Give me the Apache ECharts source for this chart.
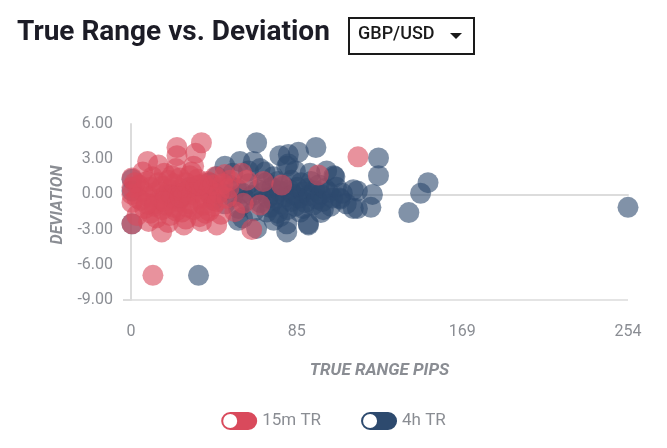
<!DOCTYPE html>
<html>
<head>
<meta charset="utf-8">
<script src="https://cdn.jsdelivr.net/npm/echarts@6/dist/echarts.min.js"></script>
<style>
html,body{margin:0;padding:0;background:#fff;}
#c{width:667px;height:448px;}
</style>
</head>
<body>
<div id="c"></div>
<script>
const xTickValues = [0, 254/3, 508/3, 254];
const yTickValues = [-9, -6, -3, 0, 3, 6];

const red15m = [
  [11.2,-6.9],[116,3.2],[36,4.4],[23.5,4.0],[23.5,3.3],[33,3.5],[8.5,2.8],[95.7,1.65],[61.7,-3.0],
  [0.5,1.4],[0.5,-2.5],[0.5,0.0],[0.5,-0.7],[0.5,0.6],[15.7,-3.2],[43.8,-2.6],[36.1,-2.3],
  [50.6,1.2],[56.6,1.8],[59.1,1.2],[67.6,1.1],[77,0.8],[57.4,-0.76],[65.9,-0.9],[53.1,-1.47],
  [4,0.8],[5,-0.5],[6,0.3],[7,-1.2],[8,1.1],[9,-0.2],[10,0.6],[10,-1.6],[11,1.5],[12,-0.8],
  [13,0.2],[13,-2.0],[14,1.0],[15,-0.4],[16,0.7],[16,-1.3],[17,1.8],[18,0.0],[18,-0.9],[19,1.2],
  [20,-1.8],[20,0.4],[21,-0.3],[22,0.9],[22,-1.1],[23,2.2],[24,0.1],[24,-0.6],[25,1.4],[26,-1.5],
  [26,0.5],[27,-0.1],[28,1.0],[28,-2.1],[29,0.3],[30,-0.8],[30,1.6],[31,0.0],[32,-1.3],[33,0.7],
  [34,-0.4],[34,1.3],[35,-1.9],[36,0.2],[37,0.9],[37,-0.9],[38,-0.3],[39,1.1],[40,-1.4],[40,0.4],
  [41,-0.2],[42,0.8],[42,-1.0],[43,1.5],[44,-0.6],[45,0.1],[46,-1.7],[47,0.9],[48,1.7],[49,-0.3],
  [50,0.5],[3,-1.8],[6,1.9],[14,2.5],[19,-2.4],[27,-2.6],[32,2.4],[9,-2.3],[2,1.0],[3,-0.3],
  [12,-1.0],[17,-0.6],[23,-1.4],[29,-1.1],[35,0.8],[8,-0.8],[21,1.6],[25,-0.2],[31,1.9],[38,-1.6]
];

const blue4h = [
  [254,-1.1],[34.5,-6.9],[94.5,4.0],[126.5,3.1],[126.5,1.6],[151.8,1.0],[148,0.1],[142,-1.55],
  [115.7,0.3],[123.4,0.0],[122.6,-1.1],[115.7,-1.2],[107,-0.4],[102,-1.0],[97,-1.55],[90.7,-2.6],
  [79.6,-3.2],[103.7,1.6],[100,2.0],[85.6,3.6],[80.4,3.4],[76.1,3.3],[80.4,2.6],[64.2,4.4],
  [55.7,2.8],[62.5,2.8],[48,2.4],[68.5,1.9],[72.7,1.5],[91.5,1.8],[104.2,1.5],[113.6,0.4],
  [106.8,-0.3],[113.6,-1.2],[98.3,-1.3],[90.6,-2.5],[79.6,-2.5],[76.1,-1.9],[86.4,-1.5],[69.3,-1.5],
  [64.2,-2.9],[54.8,-2.2],[43.8,1.5],[79.6,2.4],[0.5,1.3],[0.5,-2.5],[0.5,0.3],
  [46,0.2],[48,-0.8],[50,0.8],[52,-0.2],[54,0.5],[55,-1.2],[57,0.1],[59,-0.5],[60,0.9],[62,-0.1],
  [63,-1.4],[65,0.4],[66,-0.7],[68,0.2],[69,1.0],[70,-0.3],[71,-1.1],[72,0.6],[73,-0.5],[74,0.0],
  [75,1.1],[75,-1.6],[76,0.3],[77,-0.8],[78,0.7],[79,-0.2],[80,-1.3],[81,0.4],[82,1.2],[82,-0.6],
  [83,0.0],[84,-1.0],[85,0.6],[86,-0.3],[87,1.0],[88,-1.2],[88,0.2],[89,-0.7],[90,0.5],[91,-0.1],
  [92,1.1],[93,-0.9],[94,0.3],[95,-0.4],[96,0.8],[97,0.0],[98,-0.6],[99,0.5],[101,0.2],[103,-0.3],
  [105,0.6],[108,0.1],[110,-0.8],[60,2.0],[66,2.2],[52,1.8],[57,-2.0],[73,-2.2],[84,2.0],
  [40,1.0],[42,-0.5],[38,0.4],[30,0.6],[25,-0.4],[20,0.0]
];

const seriesNames = ['15m TR', '4h TR'];
const RED = '#d94a5c';
const BLUE = '#2d4a6e';
const toggleIcon = 'path://M9,0 H27 A9,9 0 0 1 27,18 H9 A9,9 0 0 1 9,0 Z M9,2 A7,7 0 0 0 9,16 A7,7 0 0 0 9,2 Z';

const chart = echarts.init(document.getElementById('c'));
const grey = '#8a8d93';
chart.setOption({
  backgroundColor: '#fff',
  animation: false,
  textStyle: { fontFamily: 'Roboto' },
  title: {
    text: 'True Range vs. Deviation',
    left: 17, top: 19, padding: 0,
    textStyle: { fontFamily: 'Roboto', fontSize: 28, fontWeight: 'bold', color: '#1c1c26' }
  },
  graphic: [
    { type: 'rect', left: 348, top: 17, shape: { width: 125, height: 36 },
      style: { fill: '#fff', stroke: '#1a1a1a', lineWidth: 2 } },
    { type: 'text', left: 358, top: 25,
      style: { text: 'GBP/USD', fontFamily: 'Roboto', fontSize: 18, fontWeight: 500, fill: '#1a1a1a' } },
    { type: 'polygon', shape: { points: [[450,33],[462,33],[456,39]] }, style: { fill: '#1a1a1a' } }
  ],
  legend: {
    bottom: 13, left: 'center',
    itemWidth: 36, itemHeight: 18, itemGap: 40,
    data: [
      { name: seriesNames[0], icon: toggleIcon, itemStyle: { color: RED, opacity: 1 } },
      { name: seriesNames[1], icon: toggleIcon, itemStyle: { color: BLUE, opacity: 1 } }
    ],
    textStyle: { fontFamily: 'Roboto', fontSize: 17, color: grey }
  },
  grid: { left: 131, right: 39, top: 124, bottom: 148 },
  xAxis: {
    type: 'value', min: 0, max: 254,
    name: 'TRUE RANGE PIPS', nameLocation: 'middle', nameGap: 62,
    nameTextStyle: { fontFamily: 'Roboto', fontSize: 17, fontWeight: 'bold', fontStyle: 'italic', color: grey },
    axisLine: { show: true, lineStyle: { color: '#dcdcdc', width: 2 } },
    axisTick: { show: true, customValues: [0], length: 12, lineStyle: { color: '#dcdcdc', width: 2 } },
    splitLine: { show: false },
    axisLabel: { customValues: xTickValues, margin: 24, fontSize: 16, color: grey,
      formatter: v => String(Math.round(v)) }
  },
  yAxis: {
    type: 'value', min: -9, max: 6, interval: 3,
    name: 'DEVIATION', nameLocation: 'middle', nameGap: 62,
    nameTextStyle: { fontFamily: 'Roboto', fontSize: 16, fontWeight: 'bold', fontStyle: 'italic', color: grey,
      padding: [0, 0, 0, 14] },
    axisLine: { show: true, lineStyle: { color: '#dcdcdc', width: 2 } },
    axisTick: { show: true, customValues: [-9], length: 8, lineStyle: { color: '#dcdcdc', width: 2 } },
    splitLine: { show: true, lineStyle: { color: '#e4e4e4', width: 2 } },
    axisLabel: { margin: 18, fontSize: 16, color: grey, formatter: v => v.toFixed(2) }
  },
  series: [
    { name: seriesNames[1], type: 'scatter', data: blue4h, symbolSize: 21,
      itemStyle: { color: BLUE, opacity: 0.6 } },
    { name: seriesNames[0], type: 'scatter', data: red15m, symbolSize: 21,
      itemStyle: { color: RED, opacity: 0.6 } }
  ]
});
</script>
</body>
</html>
